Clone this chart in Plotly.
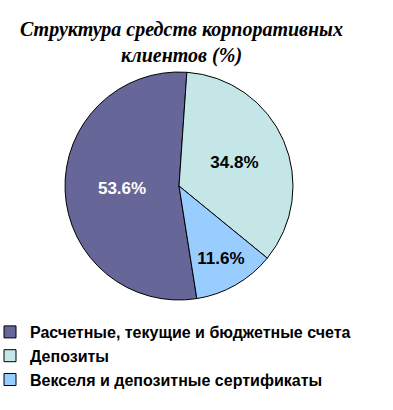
import plotly.graph_objects as go

categories = ["Расчетные, текущие и бюджетные счета", "Депозиты", "Векселя и депозитные сертификаты"]
values = [53.6, 34.8, 11.6]
colors = ["#666699", "#C4E6E6", "#99CCFF"]
text_colors = ["white", "black", "black"]
title_text = "<b><i>Структура средств корпоративных<br>клиентов (%)</i></b>"

W, H = 393, 410
cx, cy, r = 179, 186, 114

fig = go.Figure(go.Pie(
    labels=categories,
    values=values,
    sort=False,
    direction="clockwise",
    rotation=171,
    marker=dict(colors=colors, line=dict(color="black", width=1)),
    texttemplate="<b>%{value:.1f}%</b>",
    textposition="inside",
    insidetextorientation="horizontal",
    textfont=dict(family="Liberation Sans", size=17, color=text_colors),
    hoverinfo="label+value",
    domain=dict(x=[(cx - r) / W, (cx + r) / W], y=[1 - (cy + r) / H, 1 - (cy - r) / H]),
))

fig.update_layout(
    width=W, height=H,
    margin=dict(l=0, r=0, t=0, b=0, autoexpand=False),
    paper_bgcolor="white",
    plot_bgcolor="white",
    showlegend=True,
    legend=dict(
        orientation="v",
        x=-10 / W, xanchor="left",
        y=1 - 315 / H, yanchor="top",
        font=dict(family="Liberation Sans", size=16, color="black", weight="bold"),
        tracegroupgap=0,
        bgcolor="rgba(0,0,0,0)",
    ),
    annotations=[dict(
        text=title_text,
        xref="paper", yref="paper",
        x=181 / W, xanchor="center",
        y=1 - 16 / H, yanchor="top",
        showarrow=False,
        align="center",
        font=dict(family="Liberation Serif, DejaVu Serif, serif", size=20, color="black"),
    )],
)

fig.write_html("out.html", config={"displayModeBar": False},
               post_script="document.body.style.margin='0';")
